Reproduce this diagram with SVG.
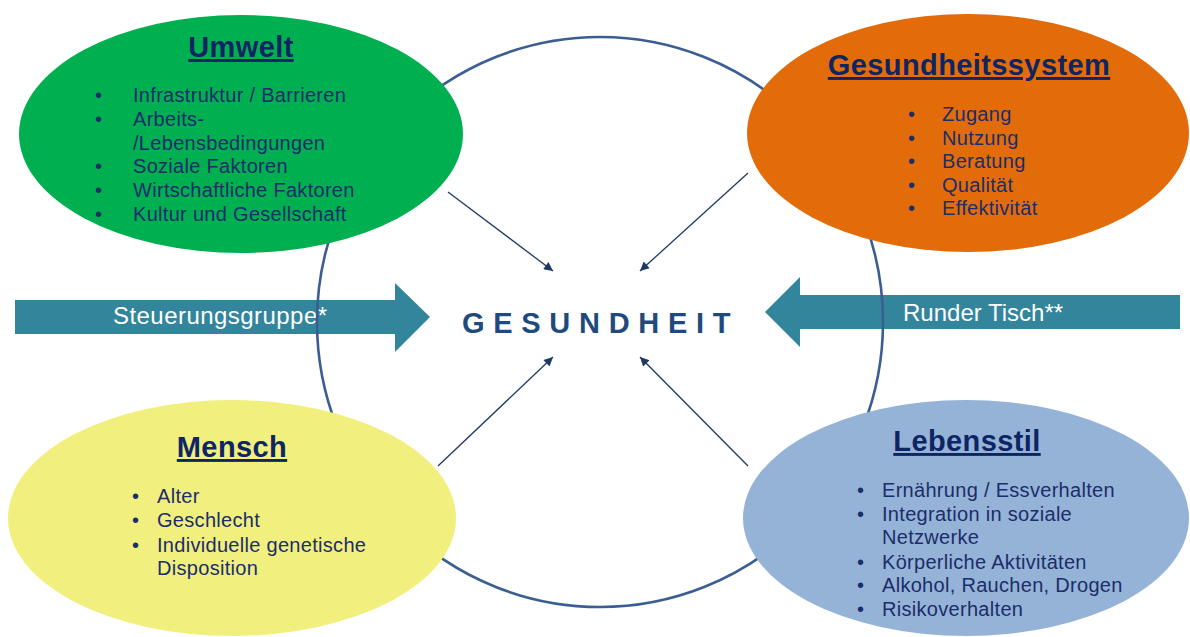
<svg xmlns="http://www.w3.org/2000/svg" width="1190" height="637" viewBox="0 0 1190 637">
<style>
.title{font-family:"Liberation Sans",Arial,sans-serif;font-size:29px;font-weight:bold;fill:#0E2563;text-decoration:underline;text-anchor:middle;letter-spacing:0.4px}
.body{font-family:"Liberation Sans",Arial,sans-serif;font-size:20px;fill:#1B2D6A;letter-spacing:0.3px}
.blk{font-family:"Liberation Sans",Arial,sans-serif;font-size:24px;fill:#FFFFFF}
.conn{stroke:#1F3864;stroke-width:1.3;fill:none;marker-end:url(#ah)}
</style>
<defs>
<marker id="ah" viewBox="0 0 10 10" refX="10" refY="5" markerWidth="11" markerHeight="9" markerUnits="userSpaceOnUse" orient="auto">
<path d="M0,0 L10,5 L0,10 z" fill="#1F3864"/>
</marker>
</defs>
<rect width="1190" height="637" fill="#FFFFFF"/>
<g id="steuerungsgruppe">
<polygon points="15,300 395,300 395,283 430,317 395,352 395,334 15,334" fill="#33859C"/>
<text class="blk" x="113" y="324" style="letter-spacing:0.45px">Steuerungsgruppe*</text>
</g>
<g id="runder-tisch">
<polygon points="1180,295 800,295 800,277 765,312 800,347 800,329 1180,329" fill="#33859C"/>
<text class="blk" x="903" y="321">Runder Tisch**</text>
</g>
<g id="gesundheit">
<ellipse cx="600" cy="322" rx="283" ry="285" fill="none" stroke="#3A5E93" stroke-width="2.6"/>
<text x="462" y="333" style="font-family:'Liberation Sans',Arial,sans-serif;font-size:29px;font-weight:bold;fill:#1F4A7E;letter-spacing:8.7px">GESUNDHEIT</text>
</g>
<g id="umwelt">
<ellipse cx="241" cy="134" rx="222" ry="119" fill="#00B050"/>
<text class="title" x="241" y="57">Umwelt</text>
<g class="body">
<text x="95" y="102">•</text><text x="133" y="102">Infrastruktur / Barrieren</text>
<text x="95" y="126">•</text><text x="133" y="126">Arbeits-</text>
<text x="133" y="150">/Lebensbedingungen</text>
<text x="95" y="173">•</text><text x="133" y="173">Soziale Faktoren</text>
<text x="95" y="197">•</text><text x="133" y="197">Wirtschaftliche Faktoren</text>
<text x="95" y="221">•</text><text x="133" y="221">Kultur und Gesellschaft</text>
</g>
</g>
<g id="gesundheitssystem">
<ellipse cx="968" cy="133" rx="221" ry="119" fill="#E36C0A"/>
<text class="title" x="969" y="75">Gesundheitssystem</text>
<g class="body">
<text x="908" y="121">•</text><text x="942" y="121">Zugang</text>
<text x="908" y="145">•</text><text x="942" y="145">Nutzung</text>
<text x="908" y="168">•</text><text x="942" y="168">Beratung</text>
<text x="908" y="192">•</text><text x="942" y="192">Qualität</text>
<text x="908" y="215">•</text><text x="942" y="215">Effektivität</text>
</g>
</g>
<g id="mensch">
<ellipse cx="232" cy="518" rx="224" ry="118" fill="#F1EF7D"/>
<text class="title" x="232" y="457">Mensch</text>
<g class="body">
<text x="132" y="503">•</text><text x="157" y="503">Alter</text>
<text x="132" y="527">•</text><text x="157" y="527">Geschlecht</text>
<text x="132" y="552">•</text><text x="157" y="552">Individuelle genetische</text>
<text x="157" y="575">Disposition</text>
</g>
</g>
<g id="lebensstil">
<ellipse cx="966" cy="518" rx="223" ry="118" fill="#95B3D7"/>
<text class="title" x="967" y="451">Lebensstil</text>
<g class="body">
<text x="857" y="497">•</text><text x="882" y="497">Ernährung / Essverhalten</text>
<text x="857" y="521">•</text><text x="882" y="521">Integration in soziale</text>
<text x="882" y="544">Netzwerke</text>
<text x="857" y="569">•</text><text x="882" y="569">Körperliche Aktivitäten</text>
<text x="857" y="592">•</text><text x="882" y="592">Alkohol, Rauchen, Drogen</text>
<text x="857" y="616">•</text><text x="882" y="616">Risikoverhalten</text>
</g>
</g>
<g id="connectors">
<line class="conn" x1="448" y1="192" x2="553" y2="271"/>
<line class="conn" x1="748" y1="173" x2="640" y2="271"/>
<line class="conn" x1="438" y1="466" x2="553" y2="357"/>
<line class="conn" x1="748" y1="466" x2="640" y2="357"/>
</g>
</svg>
